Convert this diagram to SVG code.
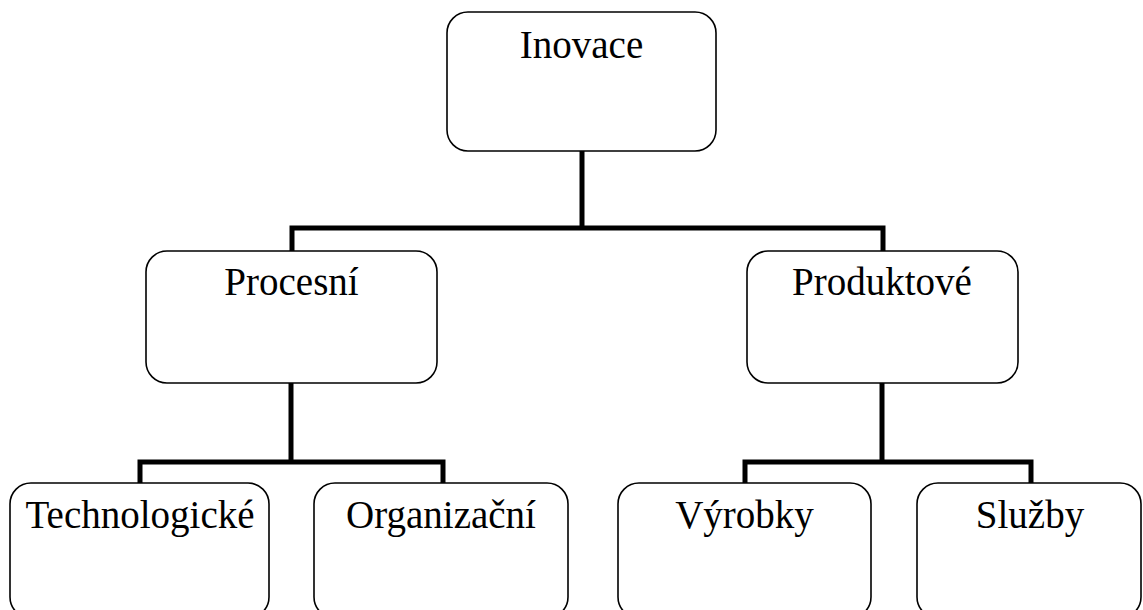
<svg xmlns="http://www.w3.org/2000/svg" width="1143" height="610" viewBox="0 0 1143 610">
<style>
.box{fill:#fff;stroke:#000;stroke-width:1.6}
.lbl{font-family:"Liberation Serif","Times New Roman",serif;font-size:39px;fill:#000;text-anchor:middle}
.con{fill:none;stroke:#000;stroke-width:5;stroke-linejoin:miter;stroke-linecap:butt}
</style>
<rect width="1143" height="610" fill="#fff"/>
<g id="connectors">
<path class="con" d="M582 151 V228"/>
<path class="con" d="M292 251 V228 H883 V252"/>
<path class="con" d="M291 383 V462"/>
<path class="con" d="M140 483 V462 H443 V483"/>
<path class="con" d="M882 383 V462"/>
<path class="con" d="M745 483 V462 H1031 V483"/>
</g>
<g id="inovace">
<rect class="box" x="447" y="12" width="269" height="139" rx="21"/>
<text class="lbl" x="581.5" y="58">Inovace</text>
</g>
<g id="procesni">
<rect class="box" x="146" y="251" width="291" height="132" rx="21"/>
<text class="lbl" x="291.5" y="295">Procesní</text>
</g>
<g id="produktove">
<rect class="box" x="747" y="251" width="271" height="132" rx="21"/>
<text class="lbl" x="882" y="295">Produktové</text>
</g>
<g id="technologicke">
<rect class="box" x="10" y="483" width="259" height="135" rx="21"/>
<text class="lbl" x="140" y="528">Technologické</text>
</g>
<g id="organizacni">
<rect class="box" x="314" y="483" width="254" height="135" rx="21"/>
<text class="lbl" x="441" y="528">Organizační</text>
</g>
<g id="vyrobky">
<rect class="box" x="618" y="483" width="253" height="135" rx="21"/>
<text class="lbl" x="744.5" y="528">Výrobky</text>
</g>
<g id="sluzby">
<rect class="box" x="917" y="483" width="224" height="135" rx="21"/>
<text class="lbl" x="1030" y="528">Služby</text>
</g>
</svg>
